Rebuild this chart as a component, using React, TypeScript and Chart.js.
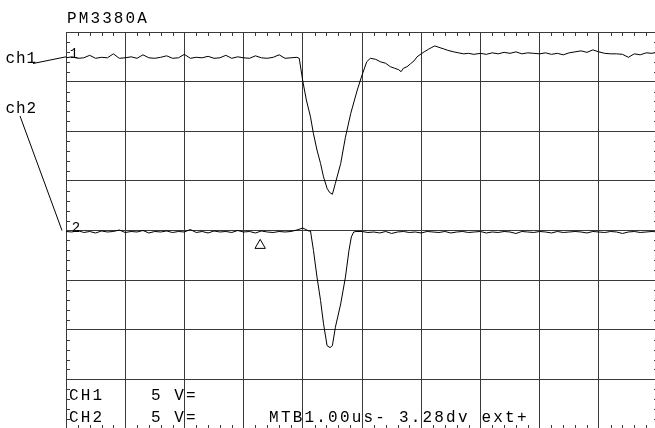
import React, { useEffect, useRef } from "react";
import { Chart, registerables } from "chart.js";

Chart.register(...registerables);

// ---- data (time in µs = divisions at 1.00 µs/div, level in divisions) ----
const ch1Time = [
  0, 0.1, 0.2, 0.3, 0.4, 0.5, 0.6, 0.7, 0.8, 0.9,
  1.0, 1.1, 1.2, 1.3, 1.4, 1.5, 1.6, 1.7, 1.8, 1.9,
  2.0, 2.1, 2.2, 2.3, 2.4, 2.5, 2.6, 2.7, 2.8, 2.9,
  3.0, 3.1, 3.2, 3.3, 3.4, 3.5, 3.6, 3.7, 3.8, 3.9,
  3.94, 4.0, 4.06, 4.13, 4.18, 4.24, 4.3, 4.35, 4.41, 4.45,
  4.5, 4.55, 4.64, 4.72, 4.81, 4.92, 5.0, 5.08, 5.14, 5.23,
  5.31, 5.4, 5.48, 5.55, 5.62, 5.66, 5.7, 5.76, 5.82, 5.88,
  5.93, 6.0, 6.05, 6.12, 6.18, 6.23, 6.3, 6.38, 6.45, 6.55,
  6.63, 6.72, 6.8, 6.89, 7.0,
  7.1, 7.2, 7.3, 7.4, 7.5, 7.6, 7.7, 7.8, 7.9, 8.0,
  8.1, 8.2, 8.3, 8.4, 8.5, 8.6, 8.7, 8.8, 8.9, 9.0,
  9.1, 9.2, 9.3, 9.4, 9.5, 9.6, 9.7, 9.8, 9.9, 10.0,
];
const ch1Level = [
  3.48, 3.5, 3.47, 3.48, 3.53, 3.47, 3.49, 3.48, 3.56, 3.47,
  3.48, 3.5, 3.47, 3.54, 3.48, 3.47, 3.49, 3.52, 3.47, 3.48,
  3.55, 3.47, 3.49, 3.48, 3.51, 3.47, 3.48, 3.53, 3.47, 3.5,
  3.48, 3.47, 3.52, 3.48, 3.47, 3.49, 3.54, 3.47, 3.48, 3.49,
  3.47, 3.01, 2.63, 2.29, 1.95, 1.62, 1.35, 1.08, 0.85, 0.77,
  0.73, 0.95, 1.35, 1.88, 2.36, 2.83, 3.13, 3.4, 3.47, 3.45,
  3.4, 3.37, 3.3, 3.27, 3.24, 3.2, 3.27, 3.3, 3.36, 3.42,
  3.5, 3.56, 3.6, 3.65, 3.69, 3.72, 3.69, 3.66, 3.63, 3.6,
  3.58, 3.56, 3.57, 3.55, 3.57,
  3.55, 3.58, 3.56, 3.59, 3.57, 3.6, 3.56, 3.58, 3.57, 3.56,
  3.58, 3.55, 3.57, 3.54, 3.58, 3.6, 3.62, 3.59, 3.64, 3.6,
  3.57, 3.56, 3.56, 3.55, 3.49, 3.56, 3.54, 3.58, 3.57, 3.6,
];

const ch2Time = [
  0, 0.1, 0.2, 0.3, 0.4, 0.5, 0.6, 0.7, 0.8, 0.9,
  1.0, 1.1, 1.2, 1.3, 1.4, 1.5, 1.6, 1.7, 1.8, 1.9,
  2.0, 2.1, 2.2, 2.3, 2.4, 2.5, 2.6, 2.7, 2.8, 2.9,
  3.0, 3.1, 3.2, 3.3, 3.4, 3.5, 3.6, 3.7, 3.8, 3.9,
  4.0, 4.1,
  4.13, 4.18, 4.24, 4.3, 4.35, 4.41, 4.46, 4.5, 4.55, 4.64,
  4.72, 4.78, 4.82, 4.86, 4.9,
  5.0, 5.1, 5.2, 5.3, 5.4, 5.5, 5.6, 5.7, 5.8, 5.9,
  6.0, 6.1, 6.2, 6.3, 6.4, 6.5, 6.6, 6.7, 6.8, 6.9,
  7.0, 7.1, 7.2, 7.3, 7.4, 7.5, 7.6, 7.7, 7.8, 7.9,
  8.0, 8.1, 8.2, 8.3, 8.4, 8.5, 8.6, 8.7, 8.8, 8.9,
  9.0, 9.1, 9.2, 9.3, 9.4, 9.5, 9.6, 9.7, 9.8, 9.9,
  10.0,
];
const ch2Level = [
  -0.02, -0.03, 0.0, -0.04, -0.02, -0.05, -0.01, -0.03, -0.02, 0.01,
  -0.04, -0.02, -0.03, 0.0, -0.05, -0.02, -0.03, -0.01, -0.04, -0.02,
  -0.03, 0.02, -0.04, -0.02, -0.05, -0.01, -0.03, -0.02, -0.04, 0.0,
  -0.03, -0.02, -0.05, -0.01, -0.03, -0.04, -0.02, -0.03, -0.02, 0.01,
  0.05, -0.01,
  -0.01, -0.4, -0.94, -1.41, -1.88, -2.32, -2.36, -2.32, -1.95, -1.48,
  -0.94, -0.4, -0.13, -0.03, -0.02,
  -0.02, -0.04, -0.03, -0.05, -0.02, -0.06, -0.03, -0.02, -0.04, -0.03,
  -0.05, -0.02, -0.03, -0.04, -0.02, -0.05, -0.03, -0.02, -0.04, -0.03,
  -0.02, -0.05, -0.03, -0.04, -0.02, -0.03, -0.06, -0.02, -0.03, -0.04,
  -0.02, -0.03, -0.05, -0.02, -0.04, -0.03, -0.02, -0.03, -0.05, -0.02,
  -0.03, -0.04, -0.02, -0.03, -0.06, -0.03, -0.02, -0.04, -0.03, -0.02,
  -0.03,
];

const triggerTime = [3.28];
const triggerLevel = [-0.3];

const xDivisions = [0, 10];
const yDivisions = [-4, 4];
const minorPerDivision = 5;

const channelGround = [3.5, 0];
const channelNames = ["ch1", "ch2"];
const groundMarks = ["1", "2"];
const titleText = "PM3380A";
const readoutLines = ["CH1    5 V=", "CH2    5 V="];
const timebaseText = "MTB1.00us- 3.28dv ext+";

const FONT = "16px 'Liberation Mono', 'DejaVu Sans Mono', monospace";
const INK = "#000";
const GRID = "#3a3a3a";

function drawMono(ctx: CanvasRenderingContext2D, text: string, x: number, y: number, pitch: number) {
  for (let i = 0; i < text.length; i++) {
    ctx.fillText(text[i], x + i * pitch + pitch / 2, y);
  }
}

const scopePlugin = {
  id: "scopeDecor",
  beforeDatasetsDraw(chart: any) {
    const { ctx, chartArea, scales } = chart;
    const { left, right, top, bottom } = chartArea;
    const xs = scales.x;
    const ys = scales.y;
    ctx.save();
    ctx.strokeStyle = GRID;
    ctx.lineWidth = 1;
    ctx.beginPath();
    for (let i = xDivisions[0] * minorPerDivision + 1; i < xDivisions[1] * minorPerDivision; i++) {
      if (i % minorPerDivision === 0) continue;
      const px = Math.round(xs.getPixelForValue(i / minorPerDivision)) + 0.5;
      ctx.moveTo(px, top);
      ctx.lineTo(px, top + 4);
      ctx.moveTo(px, bottom);
      ctx.lineTo(px, bottom - 4);
    }
    for (let i = yDivisions[0] * minorPerDivision + 1; i < yDivisions[1] * minorPerDivision; i++) {
      if (i % minorPerDivision === 0) continue;
      const py = Math.round(ys.getPixelForValue(i / minorPerDivision)) + 0.5;
      ctx.moveTo(left, py);
      ctx.lineTo(left + 4, py);
      ctx.moveTo(right, py);
      ctx.lineTo(right - 4, py);
    }
    ctx.stroke();

    // channel label leader lines
    ctx.strokeStyle = INK;
    ctx.beginPath();
    const g1 = ys.getPixelForValue(channelGround[0]);
    const g2 = ys.getPixelForValue(channelGround[1]);
    ctx.moveTo(33, 63.5);
    ctx.lineTo(left, g1);
    ctx.moveTo(20, 116);
    ctx.lineTo(left - 4, g2);
    ctx.stroke();

    ctx.fillStyle = INK;
    ctx.font = FONT;
    ctx.textAlign = "center";
    ctx.textBaseline = "alphabetic";
    drawMono(ctx, titleText, left, 23, 11.7);
    drawMono(ctx, channelNames[0], 5, 63, 10.5);
    drawMono(ctx, channelNames[1], 5, 113, 10.5);
    drawMono(ctx, readoutLines[0], left + 2, bottom - 29, 11.7);
    drawMono(ctx, readoutLines[1], left + 2, bottom - 7, 11.7);
    drawMono(ctx, timebaseText, left + 202, bottom - 7, 11.8);

    ctx.font = "14px 'Liberation Mono', monospace";
    ctx.textBaseline = "middle";
    ctx.fillText(groundMarks[0], left + 8, g1 - 3);
    ctx.fillText(groundMarks[1], left + 10, g2 - 2);
    ctx.restore();
  },
};

export default function App() {
  const canvasRef = useRef<HTMLCanvasElement | null>(null);

  useEffect(() => {
    document.body.style.margin = "0";
    document.body.style.overflow = "hidden";
    const canvas = canvasRef.current;
    if (!canvas) return;
    const chart = new Chart(canvas, {
      type: "line",
      data: {
        datasets: [
          {
            label: "ch1",
            data: ch1Time.map((t, i) => ({ x: t, y: ch1Level[i] })),
            borderColor: INK,
            borderWidth: 1,
            pointRadius: 0,
            tension: 0,
            fill: false,
          },
          {
            label: "ch2",
            data: ch2Time.map((t, i) => ({ x: t, y: ch2Level[i] })),
            borderColor: INK,
            borderWidth: 1,
            pointRadius: 0,
            tension: 0,
            fill: false,
          },
          {
            label: "trigger",
            type: "scatter",
            data: triggerTime.map((t, i) => ({ x: t, y: triggerLevel[i] })),
            showLine: false,
            pointStyle: "triangle",
            pointRadius: 6,
            pointBackgroundColor: "#fff",
            pointBorderColor: INK,
            pointBorderWidth: 1,
          } as any,
        ],
      },
      options: {
        animation: false,
        responsive: false,
        devicePixelRatio: 1,
        events: [],
        layout: { autoPadding: false, padding: { left: 66, top: 32, right: 2, bottom: 1 } },
        plugins: {
          legend: { display: false },
          tooltip: { enabled: false },
          title: { display: false },
        },
        scales: {
          x: {
            type: "linear",
            min: xDivisions[0],
            max: xDivisions[1],
            ticks: { display: false, stepSize: 1 },
            grid: { color: GRID, lineWidth: 1, drawTicks: false },
            border: { display: true, color: GRID, width: 1 },
            afterFit: (s: any) => {
              s.height = 0;
            },
          },
          y: {
            type: "linear",
            min: yDivisions[0],
            max: yDivisions[1],
            ticks: { display: false, stepSize: 1 },
            grid: { color: GRID, lineWidth: 1, drawTicks: false },
            border: { display: true, color: GRID, width: 1 },
            afterFit: (s: any) => {
              s.width = 0;
            },
          },
        },
      } as any,
      plugins: [scopePlugin],
    });
    return () => chart.destroy();
  }, []);

  return (
    <div
      style={{
        position: "fixed",
        left: 0,
        top: 0,
        width: 655,
        height: 428,
        overflow: "hidden",
        background: "#fff",
      }}
    >
      <canvas ref={canvasRef} width={660} height={430} style={{ display: "block" }} />
    </div>
  );
}
